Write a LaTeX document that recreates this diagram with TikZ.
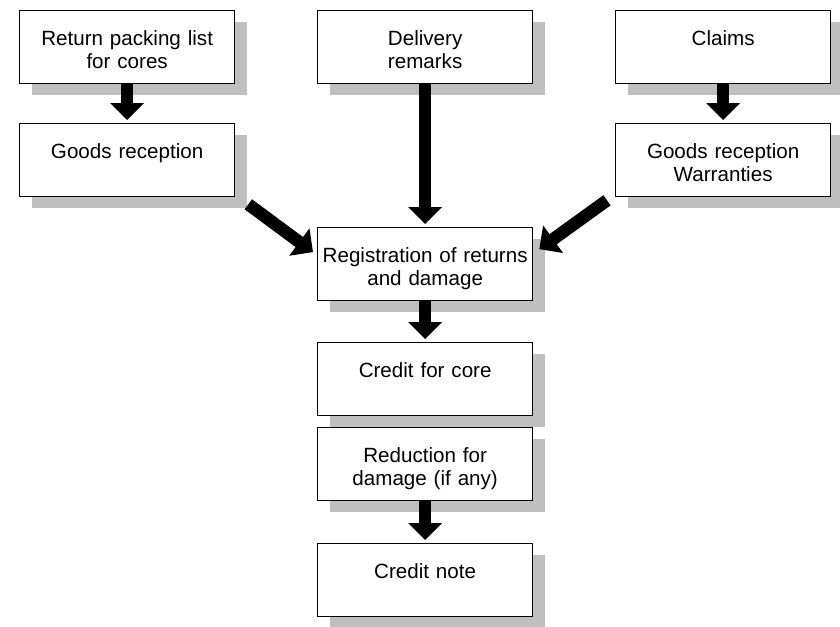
\documentclass[tikz,border=0pt]{standalone}
\usepackage{fontspec}
\setmainfont{Liberation Sans}
\usetikzlibrary{arrows.meta,shadows}
\tikzset{
  procbox/.style={draw,line width=1.3pt,fill=white,anchor=north west,
    minimum width=215pt,minimum height=73pt,inner sep=0pt,
    text width=214pt,align=center,text height=26pt,text depth=30pt,
    font=\fontsize{20.6}{23.5}\selectfont,
    drop shadow={shadow xshift=12pt,shadow yshift=-11pt,fill=black!25,opacity=1}},
  flow/.style={line width=12.5pt,-{Triangle[width=33pt,length=17pt]},shorten >=3pt}
}
\begin{document}
\begin{tikzpicture}[x=1pt,y=-1pt]
\useasboundingbox (0,0) rectangle (840,626);
\foreach \n/\x/\y/\t in {ret/19/10/{Return packing list\\for cores}, del/317/10/{Delivery\\remarks}, clm/615/10/Claims,
  gl/19/123/Goods reception, gw/615/123/{Goods reception\\Warranties}, reg/317/227/{Registration of returns\\and damage},
  crd/317/342/Credit for core, red/317/427/{Reduction for\\damage (if any)}, note/317/543/Credit note} {
  \node[procbox] (\n) at (\x,\y) {\t};
}
\foreach \a/\b in {ret/gl, clm/gw, del/reg, reg/crd, red/note}
  \draw[flow] (\a) -- (\b);
\draw[flow,shorten >=0pt] ([shift={(13pt,-7pt)}]gl.south east) -- ([shift={(-4pt,12pt)}]reg.west);
\draw[flow,shorten >=0pt] ([shift={(-8pt,-3pt)}]gw.south west) -- ([shift={(6pt,15pt)}]reg.east);
\end{tikzpicture}
\end{document}
